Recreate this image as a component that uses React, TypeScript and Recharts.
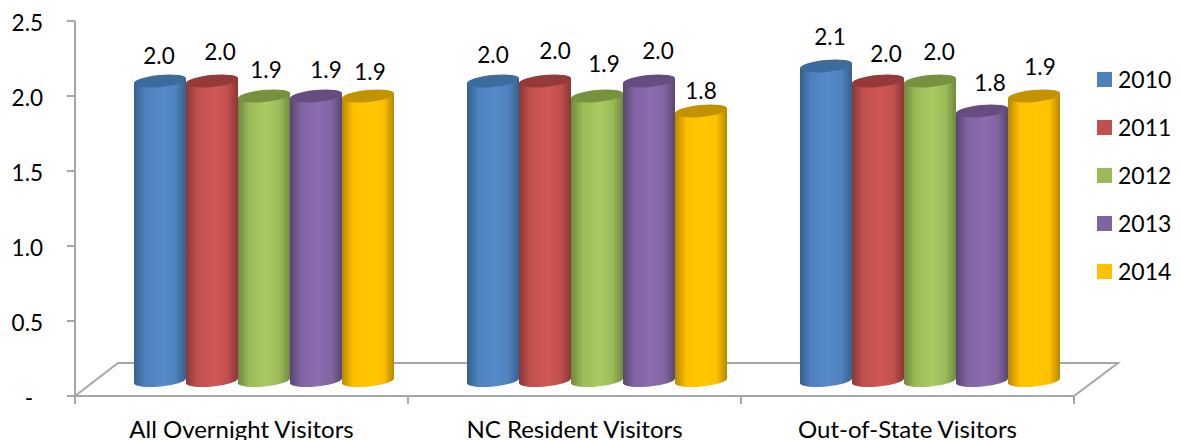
import React from "react";
import { BarChart, Bar, XAxis, YAxis, Legend, LabelList, usePlotArea } from "recharts";

// Average length of stay by visitor segment, 2010-2014
const categories = ["All Overnight Visitors", "NC Resident Visitors", "Out-of-State Visitors"];
const years = ["2010", "2011", "2012", "2013", "2014"];
const values2010 = [2.0, 2.0, 2.1];
const values2011 = [2.0, 2.0, 2.0];
const values2012 = [1.9, 1.9, 2.0];
const values2013 = [1.9, 2.0, 1.8];
const values2014 = [1.9, 1.8, 1.9];
const valueTicks = [0, 0.5, 1, 1.5, 2, 2.5];

const seriesValues = [values2010, values2011, values2012, values2013, values2014];
const chartData = categories.map((name, i) => {
  const row: Record<string, string | number> = { name };
  years.forEach((y, s) => { row[y] = seriesValues[s][i]; });
  return row;
});

// Cylinder shading per series: flat key colour, rim, highlight, cap
const palette = [
  { key: "#4F81BD", edge: "#35608F", mid: "#5689CA", cap: "#3E6B9E" },
  { key: "#C0504D", edge: "#8A3735", mid: "#D05854", cap: "#953A39" },
  { key: "#9BBB59", edge: "#70893F", mid: "#A8CB62", cap: "#76923F" },
  { key: "#8064A2", edge: "#594570", mid: "#8C6DB0", cap: "#664C80" },
  { key: "#FFC000", edge: "#B58800", mid: "#FFC800", cap: "#C29300" },
];

// Perspective shift of the cylinders against the axis plane
const DEPTH_X = 22;
const DEPTH_Y = -15;
const CAP_RY = 6;
const TILT_RISE = 2.6;

const DIGIT_SIZE = 22.5;

// Hand-placed data label nudges, [series][category] = [dx, dy] from the cap centre
const labelNudges = [
  [[-1, -25], [0, -26], [4, -29]],
  [[8, -29], [10, -30], [8, -27]],
  [[2, -26], [7, -32], [9, -29]],
  [[10, -26], [9, -30], [8, -28]],
  [[2, -24], [0, -20], [6, -29]],
];

const Cylinder = (props: any) => {
  const { x, y, width, height, seriesIndex } = props;
  const left = x + DEPTH_X;
  const right = left + width;
  const top = y + DEPTH_Y;
  const rx = width / 2 + 0.2;
  const p = palette[seriesIndex];
  const body =
    `M${left},${top + TILT_RISE} L${left},${top + height + TILT_RISE} ` +
    `A${rx},${CAP_RY} -5.6 0 0 ${right},${top + height - TILT_RISE} ` +
    `L${right},${top - TILT_RISE} A${rx},${CAP_RY} -5.6 0 0 ${left},${top + TILT_RISE} Z`;
  return (
    <g>
      <path d={body} fill={`url(#cyl${seriesIndex})`} />
      <ellipse
        cx={left + width / 2}
        cy={top}
        rx={rx}
        ry={CAP_RY}
        fill={p.cap}
        transform={`rotate(-5.6 ${left + width / 2} ${top})`}
      />
    </g>
  );
};

const nudgedLabel = (seriesIndex: number) => (props: any) => {
  const { x, y, width, value, index } = props;
  const [dx, dy] = labelNudges[seriesIndex][index];
  return (
    <text
      x={x + width / 2 + DEPTH_X + dx}
      y={y + DEPTH_Y + dy}
      dy={8}
      textAnchor="middle"
      fontFamily="Lato"
      fontSize={DIGIT_SIZE}
      fill="#000"
    >
      {Number(value).toFixed(1)}
    </text>
  );
};

// Back edge, side edges and band ticks of the 3D floor
const FloorPlane = () => {
  const area = usePlotArea();
  if (!area) return null;
  const { x, y, width, height } = area;
  const bottom = y + height;
  const backY = bottom - 33;
  const stroke = "#A6A6A6";
  const band = width / categories.length;
  return (
    <g stroke={stroke} strokeWidth={2} fill="none">
      <path d={`M${x},${bottom} L${x + 43},${backY} L${x + width + 44},${backY} L${x + width},${bottom}`} />
      {[0, 1, 2, 3].map((i) => (
        <line key={i} x1={x + band * i} x2={x + band * i} y1={bottom} y2={bottom + 8} />
      ))}
    </g>
  );
};

const ValueTick = (props: any) => {
  const { x, y, payload } = props;
  const isZero = payload.value === 0;
  return (
    <text
      x={isZero ? x - 32 : x - 22}
      y={y + 10}
      textAnchor="end"
      fontFamily="Lato"
      fontSize={DIGIT_SIZE}
      fill="#000"
    >
      {isZero ? "-" : Number(payload.value).toFixed(1)}
    </text>
  );
};

const CategoryTick = (props: any) => {
  const { x, y, payload } = props;
  return (
    <text x={x} y={y + 34} textAnchor="middle" fontFamily="Lato" fontSize={24} fill="#000">
      {payload.value}
    </text>
  );
};

const LegendList = () => (
  <div style={{ fontFamily: "Lato", fontSize: 23, color: "#000" }}>
    {years.map((year, i) => (
      <div key={year} style={{ display: "flex", alignItems: "center", height: 48 }}>
        <span style={{ width: 15, height: 15, background: palette[i].key, marginRight: 6, flex: "none" }} />
        <span>{year}</span>
      </div>
    ))}
  </div>
);

export default function App() {
  return (
    <BarChart
      width={1172}
      height={432}
      data={chartData}
      margin={{ top: 13, right: 23, bottom: 0, left: 0 }}
      barCategoryGap={37}
      barGap={0}
    >
      <defs>
        {palette.map((p, i) => (
          <linearGradient key={i} id={`cyl${i}`} x1="0" x2="1" y1="0" y2="0">
            <stop offset="0" stopColor={p.edge} />
            <stop offset="0.22" stopColor={p.key} />
            <stop offset="0.55" stopColor={p.mid} />
            <stop offset="0.8" stopColor={p.key} />
            <stop offset="1" stopColor={p.edge} />
          </linearGradient>
        ))}
      </defs>
      <FloorPlane />
      <XAxis
        dataKey="name"
        height={44}
        stroke="#A6A6A6"
        strokeWidth={2}
        tickLine={false}
        tick={CategoryTick}
        interval={0}
      />
      <YAxis
        width={67}
        domain={[0, 2.5]}
        ticks={valueTicks}
        stroke="#A6A6A6"
        strokeWidth={2}
        tickSize={8}
        tick={ValueTick}
        interval={0}
      />
      <Legend
        layout="vertical"
        align="right"
        verticalAlign="top"
        width={83}
        wrapperStyle={{ top: 47, left: 1089, width: 83 }}
        content={LegendList}
      />
      {years.map((year, i) => (
        <Bar
          key={year}
          dataKey={year}
          fill={palette[i].key}
          isAnimationActive={false}
          shape={(props: any) => <Cylinder {...props} seriesIndex={i} />}
        >
          <LabelList dataKey={year} content={nudgedLabel(i)} />
        </Bar>
      ))}
    </BarChart>
  );
}
